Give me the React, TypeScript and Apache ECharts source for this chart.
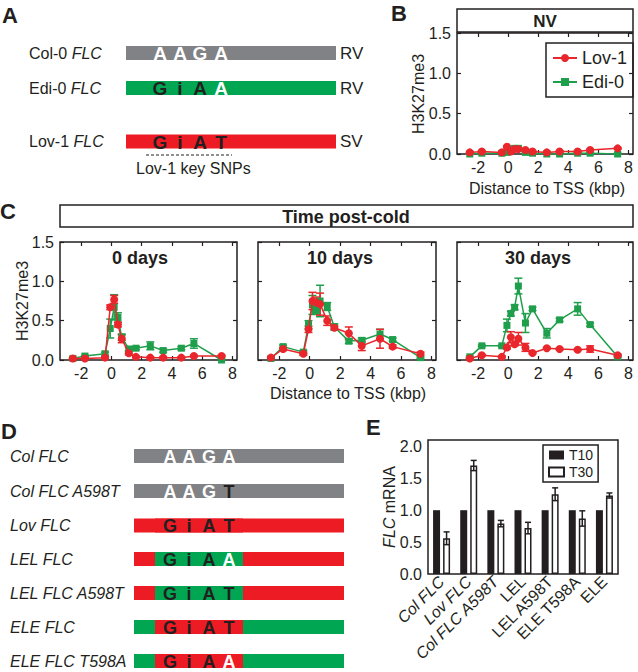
import React, { useEffect, useRef } from 'react';
import * as echarts from 'echarts';

const FONT = '"Liberation Sans", Arial, Helvetica, sans-serif';
const INK = '#231f20';
const RED = '#e8262b';
const GREEN = '#1f9f4b';
const BAR_RED = '#ed1c24';
const BAR_GREEN = '#00a651';
const BAR_GRAY = '#808285';

// ---------- Panel A ----------
const accessionsA = ['Col-0', 'Edi-0', 'Lov-1'];
const vernA = ['RV', 'RV', 'SV'];
const snpsA = [['A', 'A', 'G', 'A'], ['G', 'i', 'A', 'A'], ['G', 'i', 'A', 'T']];
const snpWhiteA = [[1, 1, 1, 1], [0, 0, 0, 1], [0, 0, 0, 0]];
const barColorA = ['gray', 'green', 'red'];

// ---------- Panels B / C (H3K27me3 ChIP) ----------
const distanceKbp = [-2.55, -1.75, -0.42, -0.08, 0.18, 0.43, 0.68, 1.15, 1.62, 2.57, 3.42, 4.62, 5.45, 7.28];
const xTicks = [-2, 0, 2, 4, 6, 8];

const nvLov = [0.02, 0.03, 0.02, 0.09, 0.03, 0.06, 0.06, 0.05, 0.03, 0.02, 0.03, 0.03, 0.05, 0.07];
const nvLovErr = [0.01, 0.01, 0.01, 0.01, 0.01, 0.01, 0.01, 0.01, 0.01, 0.01, 0.01, 0.01, 0.01, 0.01];
const nvEdi = [0.0, 0.01, 0.01, 0.02, 0.05, 0.07, 0.07, 0.02, 0.01, 0.0, 0.0, 0.01, 0.01, 0.0];
const nvEdiErr = [0.01, 0.01, 0.01, 0.01, 0.01, 0.01, 0.01, 0.01, 0.01, 0.01, 0.01, 0.01, 0.01, 0.01];

const d0Lov = [0.02, 0.02, 0.03, 0.67, 0.77, 0.45, 0.27, 0.085, 0.04, 0.03, 0.03, 0.03, 0.05, 0.05];
const d0LovErr = [0.01, 0.01, 0.01, 0.03, 0.05, 0.03, 0.05, 0.02, 0.01, 0.01, 0.01, 0.01, 0.01, 0.01];
const d0Edi = [0.02, 0.05, 0.08, 0.40, 0.67, 0.54, 0.29, 0.14, 0.15, 0.18, 0.12, 0.15, 0.21, 0.0];
const d0EdiErr = [0.01, 0.01, 0.02, 0.12, 0.16, 0.06, 0.04, 0.02, 0.02, 0.05, 0.02, 0.02, 0.06, 0.01];

const d10Lov = [0.03, 0.14, 0.08, 0.39, 0.75, 0.73, 0.71, 0.50, 0.41, 0.34, 0.18, 0.27, 0.17, 0.08];
const d10LovErr = [0.01, 0.02, 0.02, 0.04, 0.11, 0.07, 0.14, 0.06, 0.02, 0.08, 0.06, 0.12, 0.02, 0.02];
const d10Edi = [0.02, 0.17, 0.10, 0.45, 0.70, 0.63, 0.75, 0.68, 0.42, 0.24, 0.25, 0.33, 0.26, 0.03];
const d10EdiErr = [0.01, 0.02, 0.02, 0.05, 0.12, 0.05, 0.2, 0.05, 0.04, 0.03, 0.03, 0.06, 0.02, 0.01];

const d30Lov = [0.02, 0.06, 0.04, 0.16, 0.29, 0.20, 0.27, 0.16, 0.09, 0.15, 0.14, 0.13, 0.14, 0.06];
const d30LovErr = [0.01, 0.01, 0.01, 0.02, 0.07, 0.02, 0.08, 0.05, 0.01, 0.01, 0.01, 0.01, 0.04, 0.01];
const d30Edi = [0.04, 0.18, 0.18, 0.44, 0.59, 0.67, 0.94, 0.47, 0.65, 0.34, 0.51, 0.65, 0.45, 0.04];
const d30EdiErr = [0.01, 0.01, 0.01, 0.08, 0.03, 0.03, 0.1, 0.12, 0.02, 0.06, 0.02, 0.08, 0.02, 0.01];

const timeTitles = ['0 days', '10 days', '30 days'];

// ---------- Panel D ----------
const constructsD = ['Col FLC', 'Col FLC A598T', 'Lov FLC', 'LEL FLC', 'LEL FLC A598T', 'ELE FLC', 'ELE FLC T598A'];
const outerD = ['gray', 'gray', 'red', 'red', 'red', 'green', 'green'];
const innerD = ['gray', 'gray', 'red', 'green', 'green', 'red', 'red'];
const snpsD = [
  ['A', 'A', 'G', 'A'], ['A', 'A', 'G', 'T'], ['G', 'i', 'A', 'T'], ['G', 'i', 'A', 'A'],
  ['G', 'i', 'A', 'T'], ['G', 'i', 'A', 'T'], ['G', 'i', 'A', 'A'],
];
const snpWhiteD = [
  [1, 1, 1, 1], [1, 1, 1, 0], [0, 0, 0, 0], [0, 0, 0, 1], [0, 0, 0, 0], [0, 0, 0, 0], [0, 0, 0, 1],
];

// ---------- Panel E ----------
const linesE = ['Col FLC', 'Lov FLC', 'Col FLC A598T', 'LEL', 'LEL A598T', 'ELE T598A', 'ELE'];
const t10 = [1, 1, 1, 1, 1, 1, 1];
const t30 = [0.56, 1.70, 0.79, 0.72, 1.25, 0.87, 1.23];
const t30Err = [0.10, 0.08, 0.05, 0.09, 0.10, 0.12, 0.04];
const eTicks = [0, 0.5, 1.0, 1.5, 2.0];

const colorOf = (c: string) => (c === 'gray' ? BAR_GRAY : c === 'green' ? BAR_GREEN : BAR_RED);

function text(x: number, y: number, t: string, opts: any = {}) {
  const { size = 16, weight = 'normal', style = 'normal', fill = INK, align = 'left', valign = 'middle', rotation = 0, rich } = opts;
  return {
    type: 'text', x, y, rotation, z: 10,
    style: {
      text: t, fill, fontSize: size, fontWeight: weight, fontStyle: style, fontFamily: FONT,
      align, verticalAlign: valign, textAlign: align, textVerticalAlign: valign, rich,
    },
  };
}

function errRender(color: string, offset = 0, cap = 4) {
  return (params: any, api: any) => {
    const x = api.value(0), y = api.value(1), e = api.value(2);
    const top = api.coord([x, y + e]);
    const bot = api.coord([x, Math.max(0, y - e)]);
    const cx = top[0] + offset;
    const st = { stroke: color, lineWidth: 1.5 };
    return {
      type: 'group',
      children: [
        { type: 'line', shape: { x1: cx, y1: top[1], x2: cx, y2: bot[1] }, style: st },
        { type: 'line', shape: { x1: cx - cap, y1: top[1], x2: cx + cap, y2: top[1] }, style: st },
        { type: 'line', shape: { x1: cx - cap, y1: bot[1], x2: cx + cap, y2: bot[1] }, style: st },
      ],
    };
  };
}

export default function App() {
  const ref = useRef<HTMLDivElement>(null);
  useEffect(() => {
    if (!ref.current) return;
    const chart = echarts.init(ref.current, undefined, { renderer: 'svg' });

    const grids = [
      { left: 457, top: 33, width: 176, height: 121 },
      { left: 60, top: 242, width: 177, height: 118 },
      { left: 258, top: 242, width: 178, height: 118 },
      { left: 457, top: 242, width: 176, height: 118 },
      { left: 428, top: 440, width: 190, height: 134 },
    ].map((g) => ({ ...g, show: true, borderColor: INK, borderWidth: 1.5, backgroundColor: 'transparent', containLabel: false }));

    const noLine = { show: false, onZero: false };
    const xAxes: any[] = [];
    const yAxes: any[] = [];
    const tickStyle = { inside: true, length: 4, lineStyle: { color: INK, width: 1.2 } };
    for (let i = 0; i < 4; i++) {
      xAxes.push({
        type: 'value', gridIndex: i, min: -3.4, max: 8.3, position: 'bottom',
        axisLine: noLine, splitLine: { show: false },
        axisTick: { ...tickStyle, customValues: xTicks },
        axisLabel: {
          customValues: xTicks, color: INK, fontSize: 16, fontFamily: FONT, margin: 5,
          formatter: (v: number) => (xTicks.includes(v) ? String(v) : ''),
        },
      });
      xAxes.push({
        type: 'value', gridIndex: i, min: -3.4, max: 8.3, position: 'top',
        axisLine: noLine, splitLine: { show: false },
        axisTick: { ...tickStyle, customValues: xTicks }, axisLabel: { show: false },
      });
      const showY = i === 0 || i === 1;
      yAxes.push({
        type: 'value', gridIndex: i, min: 0, max: 1.5, interval: 0.5, position: 'left',
        axisLine: noLine, splitLine: { show: false },
        axisTick: tickStyle,
        axisLabel: {
          show: showY, color: INK, fontSize: 16, fontFamily: FONT, margin: 6,
          formatter: (v: number) => v.toFixed(1),
        },
      });
      yAxes.push({
        type: 'value', gridIndex: i, min: 0, max: 1.5, interval: 0.5, position: 'right',
        axisLine: noLine, splitLine: { show: false },
        axisTick: tickStyle, axisLabel: { show: false },
      });
    }
    // E axes
    xAxes.push({
      type: 'category', gridIndex: 4, data: linesE, position: 'bottom',
      axisLine: noLine, axisTick: { show: false }, splitLine: { show: false },
      axisLabel: {
        interval: 0, rotate: 45, color: INK, fontSize: 16, fontFamily: FONT, margin: 5,
        formatter: (v: string, i: number) => (i < 3 ? `{it|${v}}` : `{n|${v}}`),
        rich: {
          it: { fontStyle: 'italic', fontSize: 16, fontFamily: FONT, color: INK },
          n: { fontSize: 16, fontFamily: FONT, color: INK },
        },
      },
    });
    yAxes.push({
      type: 'value', gridIndex: 4, min: 0, max: 2.1, interval: 0.5, position: 'left',
      axisLine: noLine, splitLine: { show: false },
      axisTick: { ...tickStyle, customValues: eTicks },
      axisLabel: {
        customValues: eTicks, color: INK, fontSize: 16, fontFamily: FONT, margin: 6,
        formatter: (v: number) => (v > 2.05 ? '' : v.toFixed(1)),
      },
    });
    yAxes.push({
      type: 'value', gridIndex: 4, min: 0, max: 2.1, interval: 0.5, position: 'right',
      axisLine: noLine, splitLine: { show: false },
      axisTick: { ...tickStyle, customValues: eTicks }, axisLabel: { show: false },
    });

    const panels = [
      { lov: nvLov, lovE: nvLovErr, edi: nvEdi, ediE: nvEdiErr, names: ['Lov-1', 'Edi-0'] },
      { lov: d0Lov, lovE: d0LovErr, edi: d0Edi, ediE: d0EdiErr, names: ['Lov-1 0d', 'Edi-0 0d'] },
      { lov: d10Lov, lovE: d10LovErr, edi: d10Edi, ediE: d10EdiErr, names: ['Lov-1 10d', 'Edi-0 10d'] },
      { lov: d30Lov, lovE: d30LovErr, edi: d30Edi, ediE: d30EdiErr, names: ['Lov-1 30d', 'Edi-0 30d'] },
    ];
    const series: any[] = [];
    panels.forEach((p, i) => {
      const ax = { xAxisIndex: 2 * i, yAxisIndex: 2 * i };
      series.push({
        type: 'custom', ...ax, renderItem: errRender(GREEN), encode: { x: 0, y: 1 }, z: 2,
        data: distanceKbp.map((x, k) => [x, p.edi[k], p.ediE[k]]),
      });
      series.push({
        type: 'custom', ...ax, renderItem: errRender(RED), encode: { x: 0, y: 1 }, z: 2,
        data: distanceKbp.map((x, k) => [x, p.lov[k], p.lovE[k]]),
      });
      series.push({
        type: 'line', name: p.names[1], ...ax, symbol: 'rect', symbolSize: 7, z: 3,
        itemStyle: { color: GREEN }, lineStyle: { color: GREEN, width: 1.5 },
        data: distanceKbp.map((x, k) => [x, p.edi[k]]),
      });
      series.push({
        type: 'line', name: p.names[0], ...ax, symbol: 'circle', symbolSize: 8, z: 4,
        itemStyle: { color: RED }, lineStyle: { color: RED, width: 1.5 },
        data: distanceKbp.map((x, k) => [x, p.lov[k]]),
      });
    });
    series.push({
      type: 'bar', name: 'T10', xAxisIndex: 8, yAxisIndex: 8, barWidth: 7, barGap: '43%',
      itemStyle: { color: INK }, data: t10,
    });
    series.push({
      type: 'bar', name: 'T30', xAxisIndex: 8, yAxisIndex: 8, barWidth: 7, barGap: '43%',
      itemStyle: { color: '#ffffff', borderColor: INK, borderWidth: 1.5 }, data: t30,
    });
    series.push({
      type: 'custom', xAxisIndex: 8, yAxisIndex: 8, renderItem: errRender(INK, 5, 3), z: 5,
      encode: { x: 0, y: 1 },
      data: t30.map((v, k) => [k, v, t30Err[k]]),
    });

    const g: any[] = [];
    // Panel letters
    g.push(text(2, 15, 'A', { size: 22, weight: 'bold' }));
    g.push(text(391, 13, 'B', { size: 22, weight: 'bold' }));
    g.push(text(0, 211, 'C', { size: 22, weight: 'bold' }));
    g.push(text(1, 431, 'D', { size: 22, weight: 'bold' }));
    g.push(text(366, 427, 'E', { size: 22, weight: 'bold' }));

    // Panel A
    const rowYA = [53, 88, 141.5];
    const letterXA = [160, 180, 200, 221];
    accessionsA.forEach((acc, r) => {
      const y = rowYA[r];
      g.push(text(29, y, `{n|${acc} }{i|FLC}`, {
        rich: {
          n: { fontSize: 16, fontFamily: FONT, fill: INK, color: INK },
          i: { fontSize: 16, fontFamily: FONT, fontStyle: 'italic', fill: INK, color: INK },
        },
      }));
      g.push({ type: 'rect', shape: { x: 126, y: y - 7, width: 210, height: 14 }, style: { fill: colorOf(barColorA[r]) } });
      snpsA[r].forEach((l, k) => {
        g.push(text(letterXA[k], y + 0.5, l, { size: 19, weight: 'bold', align: 'center', fill: snpWhiteA[r][k] ? '#ffffff' : INK }));
      });
      g.push(text(340, y, vernA[r], { size: 17 }));
    });
    g.push({ type: 'line', shape: { x1: 146, y1: 155, x2: 232, y2: 155 }, style: { stroke: INK, lineWidth: 1, lineDash: [3, 2] } });
    g.push(text(136, 168, 'Lov-1 key SNPs', { size: 16 }));

    // Panel B strip & labels
    g.push({ type: 'rect', shape: { x: 457, y: 9, width: 176, height: 23 }, style: { fill: '#fff', stroke: INK, lineWidth: 1.5 } });
    g.push(text(545, 21, 'NV', { size: 17, weight: 'bold', align: 'center' }));
    g.push(text(418, 94, 'H3K27me3', { size: 16, align: 'center', rotation: Math.PI / 2 }));
    g.push(text(547, 188, 'Distance to TSS (kbp)', { size: 16, align: 'center' }));

    // Panel C strip & labels
    g.push({ type: 'rect', shape: { x: 60, y: 205, width: 573, height: 22 }, style: { fill: '#fff', stroke: INK, lineWidth: 1.5 } });
    g.push(text(346, 216.5, 'Time post-cold', { size: 18, weight: 'bold', align: 'center' }));
    g.push(text(22, 301, 'H3K27me3', { size: 16, align: 'center', rotation: Math.PI / 2 }));
    g.push(text(348, 393, 'Distance to TSS (kbp)', { size: 16, align: 'center' }));
    const titleX = [140, 340, 538];
    timeTitles.forEach((t, i) => g.push(text(titleX[i], 257.5, t, { size: 18, weight: 'bold', align: 'center' })));

    // Panel D
    const rowYD = [456, 491, 525.5, 559, 593, 627, 661];
    const letterXD = [170, 189, 209, 229];
    constructsD.forEach((c, r) => {
      const y = rowYD[r];
      g.push(text(10, y, c, { size: 16, style: 'italic' }));
      g.push({ type: 'rect', shape: { x: 134, y: y - 7, width: 210, height: 14 }, style: { fill: colorOf(outerD[r]) } });
      g.push({ type: 'rect', shape: { x: 155, y: y - 7, width: 88, height: 14 }, style: { fill: colorOf(innerD[r]) } });
      snpsD[r].forEach((l, k) => {
        g.push(text(letterXD[k], y + 0.5, l, { size: 18, weight: 'bold', align: 'center', fill: snpWhiteD[r][k] ? '#ffffff' : INK }));
      });
    });

    // Panel E y-axis name
    g.push(text(389, 507, '{i|FLC}{n| mRNA}', {
      align: 'center', rotation: Math.PI / 2,
      rich: {
        i: { fontSize: 16, fontFamily: FONT, fontStyle: 'italic', fill: INK, color: INK },
        n: { fontSize: 16, fontFamily: FONT, fill: INK, color: INK },
      },
    }));

    chart.setOption({
      animation: false,
      backgroundColor: '#ffffff',
      grid: grids,
      xAxis: xAxes,
      yAxis: yAxes,
      legend: [
        {
          data: ['Lov-1', 'Edi-0'], orient: 'vertical', left: 546, top: 43, selectedMode: false,
          borderColor: INK, borderWidth: 1.5, padding: [6, 6, 6, 6], itemGap: 6, itemWidth: 24, itemHeight: 10,
          textStyle: { fontSize: 18, fontFamily: FONT, color: INK },
        },
        {
          data: ['T10', 'T30'], orient: 'vertical', left: 543, top: 445, selectedMode: false,
          borderColor: INK, borderWidth: 1.5, padding: [3, 5, 3, 5], itemGap: 3, itemWidth: 15, itemHeight: 9,
          icon: 'rect', textStyle: { fontSize: 14, fontFamily: FONT, color: INK },
        },
      ],
      series,
      graphic: { elements: g },
    });
    return () => chart.dispose();
  }, []);
  return <div ref={ref} style={{ position: 'absolute', left: 0, top: 0, width: 638, height: 672, background: '#fff' }} />;
}
